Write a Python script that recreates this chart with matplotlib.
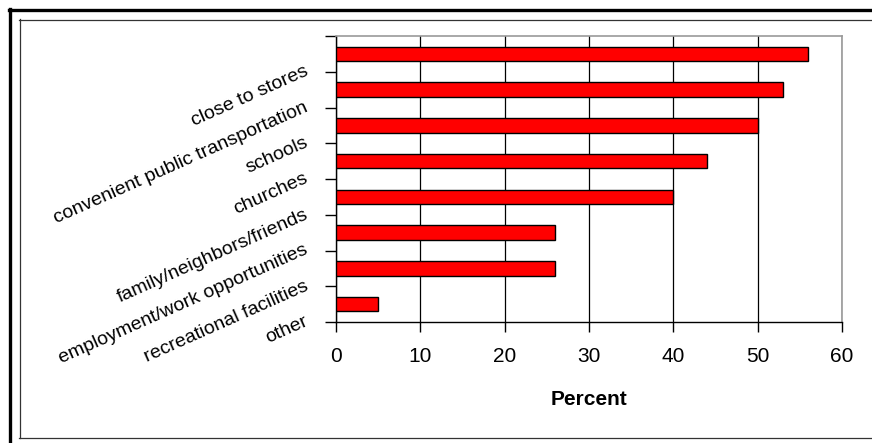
import numpy as np
import matplotlib.pyplot as plt
from matplotlib.lines import Line2D
from matplotlib.transforms import offset_copy

plt.rcParams['font.family'] = ['Liberation Sans', 'DejaVu Sans']

# data ------------------------------------------------------------
reasons = ['close to stores', 'convenient public transportation', 'schools',
           'churches', 'family/neighbors/friends',
           'employment/work opportunities', 'recreational facilities', 'other']
percent = [56, 53, 50, 44, 40, 26, 26, 5]
xticks = [0, 10, 20, 30, 40, 50, 60]

W, H = 872, 443
fig = plt.figure(figsize=(W / 100, H / 100), dpi=100)
fig.patch.set_facecolor('white')

def fx(px):
    return px / W

def fy(py):
    return 1 - py / H

# outer / inner frames (cut off at right and bottom like the original)
fig.add_artist(Line2D([fx(9), fx(W)], [fy(10), fy(10)], color='black', lw=2.4))
fig.add_artist(Line2D([fx(10), fx(10)], [fy(9), fy(H)], color='black', lw=2.4))
fig.add_artist(Line2D([fx(19), fx(W)], [fy(19.5), fy(19.5)], color='#333333', lw=0.9))
fig.add_artist(Line2D([fx(19.5), fx(19.5)], [fy(19), fy(438)], color='#333333', lw=0.9))
fig.add_artist(Line2D([fx(19), fx(W)], [fy(438), fy(438)], color='#333333', lw=0.9))

ax = fig.add_axes([fx(336), fy(322), fx(842) - fx(336), fy(36) - fy(322)])

pos = np.arange(len(reasons))
ax.barh(pos, percent, height=0.4, color='#ff0000', edgecolor='black', lw=1.0, zorder=3)

ax.set_xlim(0, 60)
ax.set_ylim(len(reasons) - 0.5, -0.5)
ax.set_xticks(xticks)
ax.set_xticklabels([str(v) for v in xticks], fontsize=15)
ax.set_yticks(np.arange(-0.5, len(reasons)))
ax.set_yticklabels([])
ax.tick_params(axis='x', direction='out', length=7, width=1, pad=11, color='black')
ax.tick_params(axis='y', direction='out', length=8, width=1, color='black')

ax.grid(axis='x', color='black', lw=0.9, zorder=1)

for side in ['top', 'right']:
    ax.spines[side].set_color('#999999')
    ax.spines[side].set_linewidth(1.2)
for side in ['left', 'bottom']:
    ax.spines[side].set_color('black')
    ax.spines[side].set_linewidth(1.0)

ax.set_xlabel('Percent', fontsize=15, fontweight='bold', labelpad=17)

# rotated category labels, shifted down like the original
lab_tr = offset_copy(ax.get_yaxis_transform(), fig=fig, x=-27, y=-21, units='dots')
for i, name in enumerate(reasons):
    ax.text(0, pos[i], name, transform=lab_tr, rotation=24, rotation_mode='anchor',
            ha='right', va='baseline', fontsize=14)

fig.savefig('out.png', dpi=100)
